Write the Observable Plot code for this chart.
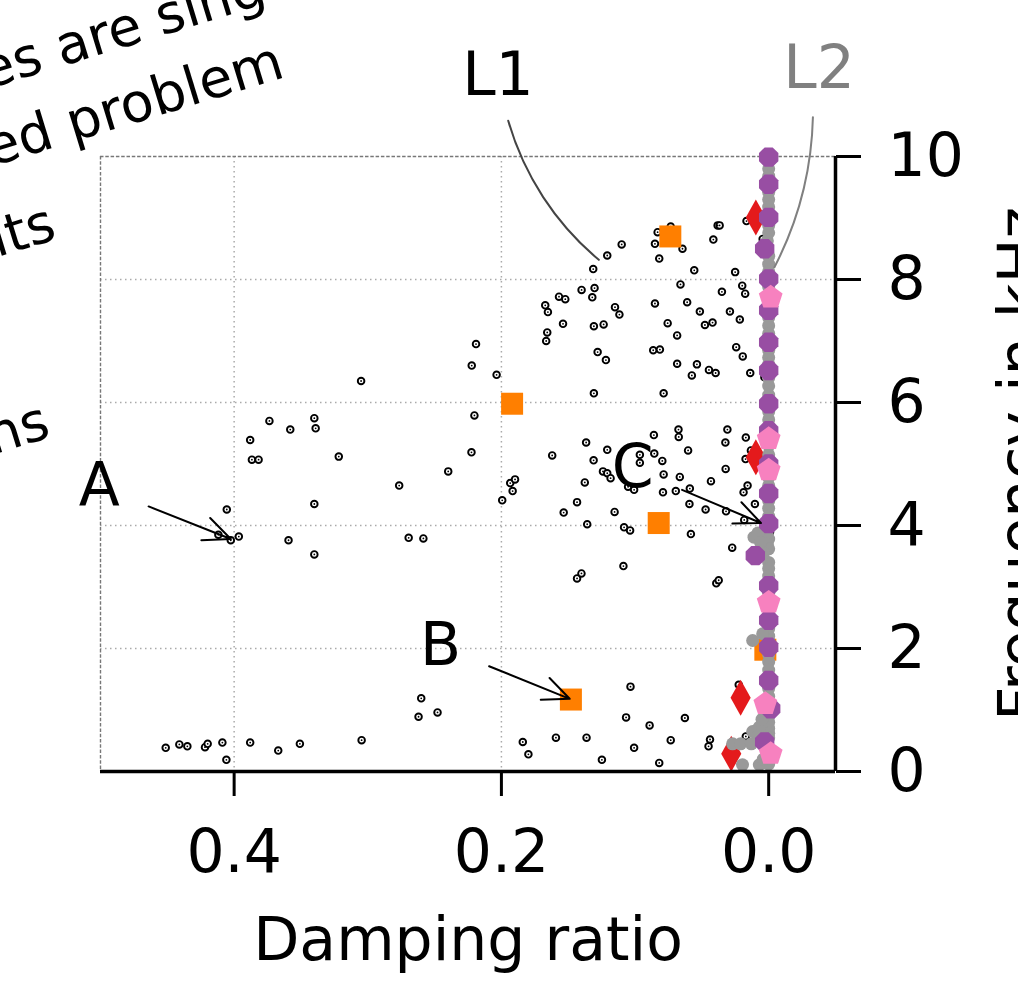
<!DOCTYPE html>
<html>
<head>
<meta charset="utf-8">
<script src="https://cdn.jsdelivr.net/npm/d3@7"></script>
<script src="https://cdn.jsdelivr.net/npm/@observablehq/plot@0.6"></script>
<style>
  html, body { margin: 0; padding: 0; background: white; overflow: hidden; }
  svg { overflow: visible; }
</style>
</head>
<body>
<script>
// ---------- data ----------
const xTicks = [0.4, 0.2, 0.0];
const yTicks = [0, 2, 4, 6, 8, 10];
const xLabel = "Damping ratio";
const yLabel = "Frequency in kHz";

// unclassified eigenvalues (black rings)
const blackPts = [
  [0.305,6.35],[0.3736,5.70],[0.340,5.745],[0.339,5.58],[0.358,5.56],[0.388,5.39],[0.3867,5.07],[0.3817,5.07],[0.3217,5.12],
  [0.4055,4.26],[0.4118,3.85],[0.4025,3.76],[0.3965,3.82],[0.340,4.35],[0.3593,3.76],[0.340,3.53],[0.2765,4.65],[0.2694,3.80],[0.2584,3.79],[0.2398,4.88],
  [0.260,1.19],[0.262,0.89],[0.2478,0.96],[0.3046,0.51],
  [0.4512,0.385],[0.441,0.44],[0.435,0.41],[0.4218,0.395],[0.4198,0.45],[0.4088,0.47],[0.4058,0.19],[0.388,0.47],[0.367,0.34],[0.3508,0.45],
  [0.110,8.57],[0.1208,8.39],[0.1313,8.17],[0.0831,8.77],[0.0733,8.86],[0.0851,8.58],[0.0645,8.50],[0.0819,8.34],[0.0382,8.88],[0.0367,8.88],
  [0.0414,8.65],[0.0166,8.95],[0.0045,8.66],[0.0557,8.15],[0.0251,8.12],[0.066,7.92],[0.0198,7.90],[0.0176,7.77],[0.035,7.80],[0.140,7.83],
  [0.1303,7.86],[0.132,7.71],[0.1569,7.72],[0.1522,7.68],[0.1672,7.58],[0.1652,7.47],[0.115,7.55],[0.1117,7.43],[0.0851,7.61],[0.061,7.63],
  [0.0515,7.48],[0.029,7.48],[0.0216,7.35],[0.1539,7.28],[0.1308,7.24],[0.1235,7.27],[0.0756,7.29],[0.0685,7.09],[0.0477,7.26],[0.042,7.30],
  [0.1657,7.14],[0.1665,7.00],[0.219,6.95],[0.2222,6.60],[0.2036,6.45],[0.128,6.82],[0.1218,6.69],[0.0864,6.85],[0.0814,6.86],[0.0685,6.63],
  [0.0537,6.62],[0.0575,6.44],[0.0447,6.53],[0.0397,6.48],[0.0243,6.90],[0.0194,6.75],[0.0138,6.48],[0.0032,6.41],[0.1308,6.15],[0.0786,6.15],
  [0.2202,5.79],[0.2224,5.19],[0.162,5.14],[0.1366,5.35],[0.1208,5.23],[0.131,5.06],[0.0859,5.47],[0.0675,5.56],[0.0673,5.44],[0.0964,5.15],
  [0.0964,5.02],[0.0856,5.17],[0.0796,5.05],[0.0603,5.22],[0.0309,5.56],[0.0324,5.35],[0.0171,5.43],[0.0133,5.22],[0.0173,5.08],[0.0322,4.92],
  [0.1934,4.69],[0.1898,4.75],[0.1916,4.56],[0.1994,4.41],[0.124,4.88],[0.1208,4.85],[0.1183,4.77],[0.1376,4.70],[0.1052,4.63],[0.1007,4.58],
  [0.0786,4.83],[0.0791,4.54],[0.0665,4.79],[0.0695,4.56],[0.059,4.60],[0.0593,4.35],[0.0432,4.72],[0.0472,4.26],[0.0319,4.23],[0.0188,4.54],
  [0.0158,4.65],[0.0103,4.35],[0.0183,4.09],[0.1434,4.38],[0.1534,4.21],[0.1153,4.22],[0.1358,4.02],[0.1082,3.97],[0.1037,3.92],[0.0582,3.86],
  [0.0273,3.64],[0.1087,3.34],[0.1434,3.14],[0.1401,3.22],[0.0392,3.06],[0.0374,3.11],[0.1034,1.38],[0.1067,0.88],[0.0891,0.75],[0.0627,0.87],
  [0.184,0.48],[0.1798,0.28],[0.1592,0.55],[0.1363,0.55],[0.1007,0.385],[0.1248,0.19],[0.0819,0.14],[0.0733,0.51],[0.0439,0.52],[0.045,0.41],
  [0.0224,1.41],[0.0171,0.57],[-0.001,3.89]
];

// dense grey column near zero damping
const grayPts = [
  [0,9.93],[0,9.80],[0,9.68],[0,9.42],[0,9.30],[0,9.18],[0,8.88],[0,8.76],[0.001,8.63],[0,8.38],[0,8.25],[0,8.13],
  [0,7.88],[0,7.62],[0,7.38],[0,7.25],[0,7.12],[0,6.85],[0,6.73],[0,6.62],[0,6.40],[0,6.27],[0,6.12],[0,5.85],
  [0,5.72],[0,5.60],[0,5.30],[0,5.15],[0,4.78],[0,4.65],[0,4.40],[0,4.28],[0,4.15],[0.002,3.92],[0.001,3.85],[0,3.78],
  [0.001,3.70],[0,3.62],[0,3.40],[0,3.30],[0,3.18],[0,2.90],[0,2.82],[0,2.62],[0,2.32],[0,2.20],[0,2.12],[0,1.90],
  [0,1.78],[0,1.65],[0,1.35],[0,1.22],[0,0.90],[0,0.80],[0,0.70],[0,0.62],[0,0.55],[0,0.35],[0,0.22],[0,0.12],
  [0.011,3.81],[0.008,3.88],[0.006,3.72],[0.004,3.55],[0.012,2.13],[0.0045,2.24],[0.007,0.72],[0.012,0.65],[0.008,0.58],
  [0.027,0.45],[0.021,0.45],[0.013,0.45],[0.0196,0.11],[0.007,0.11],[0.004,0.20],[0.005,0.85]
];

const purplePts = [
  [0.003,0.48],[-0.0015,1.02],[0,1.48],[0,2.02],[0,2.46],[0,3.02],[0.010,3.51],[0,4.03],[0,4.52],[0,5.00],
  [0,5.54],[0,5.98],[0,6.52],[0,6.98],[0,7.50],[0,8.01],[0.003,8.50],[0,9.01],[0,9.55],[0,9.99]
];
const pinkPts = [[-0.0015,0.29],[0.0025,1.10],[0,2.75],[0,4.90],[0,5.41],[-0.0015,7.71]];
const redPts = [[0.028,0.29],[0.021,1.20],[0.0096,5.11],[0.0096,9.01]];
const orangePts = [[0.148,1.17],[0.0025,1.98],[0.0823,4.04],[0.192,5.98],[0.0736,8.70]];

// annotations
const arrowData = [
  {x1: 0.464, y1: 4.31, x2: 0.4025, y2: 3.78},
  {x1: 0.2092, y1: 1.712, x2: 0.1489, y2: 1.182},
  {x1: 0.0648, y1: 4.58, x2: 0.0058, y2: 4.04}
];
const letterLabels = [
  {text: "A", x: 0.501, y: 4.65},
  {text: "B", x: 0.2456, y: 2.05},
  {text: "C", x: 0.1017, y: 4.94}
];
const leaderL1 = [{text: "L1", x: 0.2026, y: 11.32, x1: 0.1949, y1: 10.58, x2: 0.1271, y2: 8.32}];
const leaderL2 = [{text: "L2", x: -0.0377, y: 11.43, x1: -0.0331, y1: 10.64, x2: -0.0043, y2: 8.20}];
const sideNotes = [
  {text: "Eigenvalues are singular", dx: 268, dy: -184},
  {text: "of the linearized problem", dx: 186, dy: -80},
  {text: "circuits", dx: -42, dy: 82},
  {text: "solutions", dx: -48, dy: 280}
];

// ---------- custom symbols ----------
function rad(size) { return Math.sqrt(size / Math.PI); }
const squareSym = {draw(c, s) { const r = rad(s); c.moveTo(-r, -r); c.lineTo(r, -r); c.lineTo(r, r); c.lineTo(-r, r); c.closePath(); }};
const diamondSym = {draw(c, s) { const r = rad(s), w = r * 0.56; c.moveTo(0, -r); c.lineTo(w, 0); c.lineTo(0, r); c.lineTo(-w, 0); c.closePath(); }};
function polySym(n, offsetDeg) {
  return {draw(c, s) {
    const r = rad(s);
    for (let k = 0; k < n; k++) {
      const a = (offsetDeg + 360 * k / n) * Math.PI / 180;
      const px = r * Math.cos(a), py = r * Math.sin(a);
      if (k === 0) c.moveTo(px, py); else c.lineTo(px, py);
    }
    c.closePath();
  }};
}
const pentagonSym = polySym(5, -90);
const octagonSym = polySym(8, 22.5);

const X = d => d[0], Y = d => d[1];

const chart = Plot.plot({
  width: 1018,
  height: 988,
  marginLeft: 100,
  marginRight: 183,
  marginTop: 156,
  marginBottom: 217,
  style: {fontFamily: "DejaVu Sans", fontSize: "60px", background: "white", overflow: "visible"},
  x: {domain: [0.5, -0.05]},
  y: {domain: [0, 10]},
  marks: [
    // grid
    Plot.ruleX(xTicks, {stroke: "#aaa", strokeWidth: 1.5, strokeDasharray: "1.5,3.5"}),
    Plot.ruleY(yTicks.filter(v => v > 0 && v < 10), {stroke: "#aaa", strokeWidth: 1.5, strokeDasharray: "1.5,3.5"}),
    // dashed top / left frame
    Plot.ruleY([10], {stroke: "#777", strokeWidth: 1.4, strokeDasharray: "3.5,1.8"}),
    Plot.ruleX([0.5], {stroke: "#777", strokeWidth: 1.4, strokeDasharray: "3.5,1.8"}),
    // points
    Plot.dot(blackPts, {x: X, y: Y, r: 3.3, stroke: "black", strokeWidth: 1.9, fill: "white"}),
    Plot.dot(blackPts, {x: X, y: Y, r: 0.9, fill: "black"}),
    Plot.dot(orangePts, {x: X, y: Y, symbol: squareSym, r: 11, fill: "#ff7f00"}),
    Plot.dot(redPts, {x: X, y: Y, symbol: diamondSym, r: 18, fill: "#e41a1c"}),
    Plot.dot(grayPts, {x: X, y: Y, r: 6.5, fill: "#999999"}),
    Plot.dot(purplePts, {x: X, y: Y, symbol: octagonSym, r: 10.5, fill: "#984ea3"}),
    Plot.dot(pinkPts, {x: X, y: Y, symbol: pentagonSym, r: 12.5, fill: "#f781bf"}),
    // spines
    Plot.ruleY([0], {stroke: "black", strokeWidth: 3.5}),
    Plot.ruleX([-0.05], {stroke: "black", strokeWidth: 3.5}),
    // axes
    Plot.axisX(xTicks, {tickSize: 25, tickPadding: 33, fontSize: 60, strokeWidth: 3, tickFormat: d => d.toFixed(1), label: null}),
    Plot.axisY(yTicks, {anchor: "right", tickSize: 25, tickPadding: 27, fontSize: 60, strokeWidth: 3, tickFormat: d => String(d), label: null}),
    Plot.text([xLabel], {frameAnchor: "bottom", dy: 188, textAnchor: "middle", lineAnchor: "bottom", fontSize: 60}),
    Plot.text([yLabel], {frameAnchor: "right", dx: 205, rotate: -90, textAnchor: "middle", lineAnchor: "bottom", fontSize: 60}),
    // annotations
    Plot.arrow(arrowData, {x1: "x1", y1: "y1", x2: "x2", y2: "y2", stroke: "black", strokeWidth: 2, headLength: 29, headAngle: 48}),
    Plot.text(letterLabels, {x: "x", y: "y", text: "text", fontSize: 60, lineAnchor: "middle"}),
    Plot.arrow(leaderL1, {x1: "x1", y1: "y1", x2: "x2", y2: "y2", stroke: "#444", strokeWidth: 2, headLength: 0, bend: -17}),
    Plot.arrow(leaderL2, {x1: "x1", y1: "y1", x2: "x2", y2: "y2", stroke: "#808080", strokeWidth: 2, headLength: 0, bend: 13}),
    Plot.text(leaderL1, {x: "x", y: "y", text: "text", fontSize: 60, lineAnchor: "middle", fill: "black"}),
    Plot.text(leaderL2, {x: "x", y: "y", text: "text", fontSize: 60, lineAnchor: "middle", fill: "#808080"}),
    ...sideNotes.map(n => Plot.text([n.text], {frameAnchor: "top-left", dx: n.dx, dy: n.dy, rotate: -17, textAnchor: "end", lineAnchor: "bottom", fontSize: 54}))
  ]
});
document.body.appendChild(chart);
</script>
</body>
</html>
